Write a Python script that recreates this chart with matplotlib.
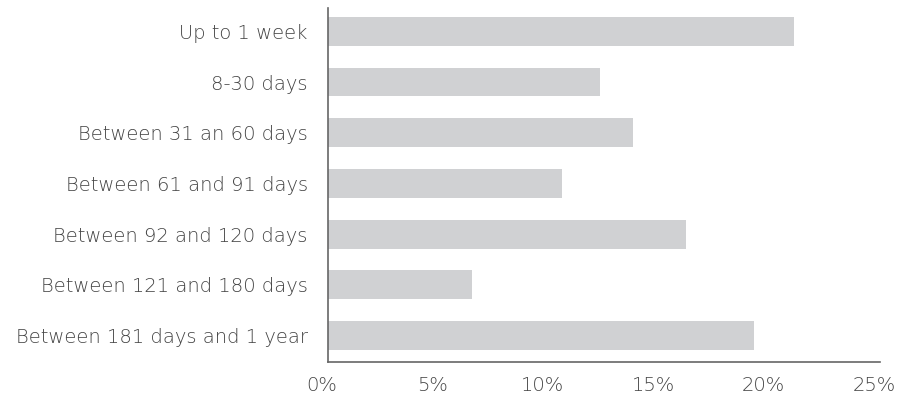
import matplotlib
matplotlib.use("Agg")
import matplotlib.pyplot as plt
from matplotlib.transforms import ScaledTranslation

categories = ['Up to 1 week', '8-30 days', 'Between 31 an 60 days',
              'Between 61 and 91 days', 'Between 92 and 120 days',
              'Between 121 and 180 days', 'Between 181 days and 1 year']
values = [21.1, 12.3, 13.8, 10.6, 16.2, 6.5, 19.3]
xticks = [0, 5, 10, 15, 20, 25]
xticklabels = ['0%', '5%', '10%', '15%', '20%', '25%']

plt.rcParams['font.family'] = ['DejaVu Sans']

fig = plt.figure(figsize=(9.02, 3.96), dpi=100)
ax = fig.add_axes([328/902, 34/396, 552/902, 354/396])

ax.barh(range(len(categories)), values, height=0.57, color='#d0d1d3')
ax.set_ylim(6.52, -0.46)
ax.set_xlim(0, 25)

ax.set_yticks(range(len(categories)))
ax.set_yticklabels(categories, fontsize=14, color='#444444', fontweight=200)
ax.set_xticks(xticks)
ax.set_xticklabels(xticklabels, fontsize=14, color='#444444', fontweight=200)
ax.tick_params(axis='y', length=0, pad=14.5)
ax.tick_params(axis='x', length=0, pad=10)

shift = ScaledTranslation(-6/100, 0, fig.dpi_scale_trans)
for lbl in ax.get_xticklabels():
    lbl.set_transform(lbl.get_transform() + shift)

for s in ['top', 'right']:
    ax.spines[s].set_visible(False)
for s in ['left', 'bottom']:
    ax.spines[s].set_color('#666666')
    ax.spines[s].set_linewidth(1.2)

fig.savefig('out.png', dpi=100)
